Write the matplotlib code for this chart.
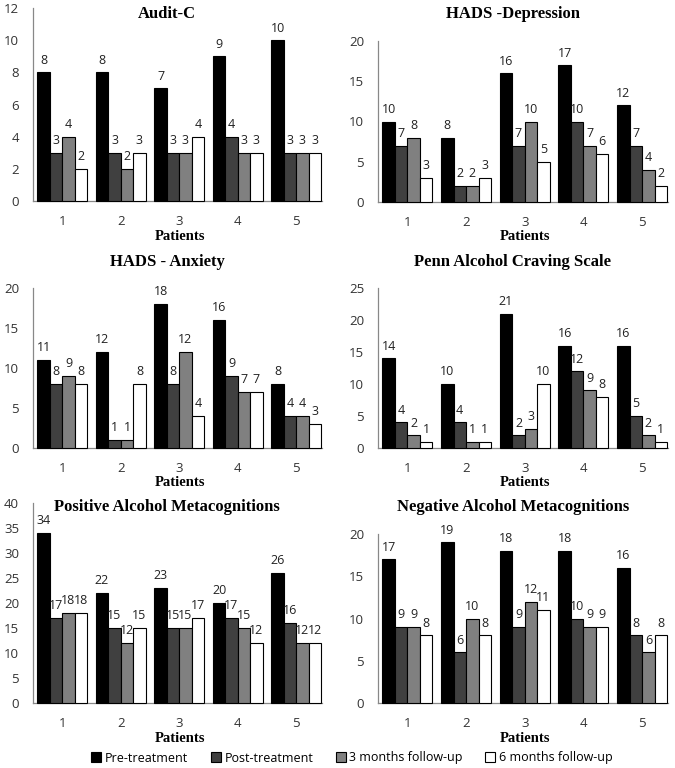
import matplotlib
matplotlib.use("Agg")
import matplotlib.pyplot as plt
from matplotlib.patches import Patch
import numpy as np

patients = ["1", "2", "3", "4", "5"]
series_names = ["Pre-treatment", "Post-treatment", "3 months follow-up", "6 months follow-up"]
colors = ["#000000", "#404040", "#808080", "#ffffff"]

audit_c = [[8, 8, 7, 9, 10], [3, 3, 3, 4, 3], [4, 2, 3, 3, 3], [2, 3, 4, 3, 3]]
hads_dep = [[10, 8, 16, 17, 12], [7, 2, 7, 10, 7], [8, 2, 10, 7, 4], [3, 3, 5, 6, 2]]
hads_anx = [[11, 12, 18, 16, 8], [8, 1, 8, 9, 4], [9, 1, 12, 7, 4], [8, 8, 4, 7, 3]]
penn = [[14, 10, 21, 16, 16], [4, 4, 2, 12, 5], [2, 1, 3, 9, 2], [1, 1, 10, 8, 1]]
pos_meta = [[34, 22, 23, 20, 26], [17, 15, 15, 17, 16], [18, 12, 15, 15, 12], [18, 15, 17, 12, 12]]
neg_meta = [[17, 19, 18, 18, 16], [9, 6, 9, 10, 8], [9, 10, 12, 9, 6], [8, 8, 11, 9, 8]]

titles = ["Audit-C", "HADS -Depression", "HADS - Anxiety", "Penn Alcohol Craving Scale",
          "Positive Alcohol Metacognitions", "Negative Alcohol Metacognitions"]
datasets = [audit_c, hads_dep, hads_anx, penn, pos_meta, neg_meta]
ymax = [12, 20, 20, 25, 40, 20]
ystep = [2, 5, 5, 5, 5, 5]

W, H = 675, 768
fig = plt.figure(figsize=(W / 100, H / 100), dpi=100)

# (left px, right px, top px, bottom px), title pos, xlabel pos
boxes = [
    (33, 322, 8, 201, (167, 14), (180, 237)),
    (378, 668, 41, 202, (513, 14), (525, 237)),
    (33, 322, 288, 448, (167, 262), (180, 483)),
    (378, 668, 288, 448, (513, 262), (525, 483)),
    (33, 322, 503, 703, (167, 507), (180, 738)),
    (378, 668, 534, 703, (513, 507), (525, 738)),
]

sans = ["Open Sans", "DejaVu Sans"]
serif = ["Liberation Serif", "DejaVu Serif"]
tick_color = "#333333"
bw = 0.213
x = np.arange(1, 6)

for data, title, ym, st, box in zip(datasets, titles, ymax, ystep, boxes):
    l, r, t, b, tpos, xpos = box
    ax = fig.add_axes([l / W, 1 - b / H, (r - l) / W, (b - t) / H])
    for i, vals in enumerate(data):
        offs = (i - 1.5) * bw
        ax.bar(x + offs, vals, width=bw, color=colors[i], edgecolor="black",
               linewidth=0.8, zorder=3, clip_on=False)
        for xi, v in zip(x + offs, vals):
            ax.annotate(str(v), (xi, v), xytext=(0, 4), textcoords="offset points",
                        ha="center", va="bottom", fontsize=9, family=sans, color="#222222")
    ax.set_xlim(0.5, 5.44)
    ax.set_ylim(0, ym)
    ax.set_yticks(np.arange(0, ym + 0.1, st))
    ax.set_xticks(x)
    ax.set_xticklabels(patients)
    ax.tick_params(axis="both", length=0, labelsize=9.5, colors=tick_color)
    ax.tick_params(axis="x", pad=10)
    ax.tick_params(axis="y", pad=10)
    for lab in ax.get_xticklabels() + ax.get_yticklabels():
        lab.set_family(sans)
    for s in ["top", "right"]:
        ax.spines[s].set_visible(False)
    for s in ["left", "bottom"]:
        ax.spines[s].set_color("#888888")
        ax.spines[s].set_linewidth(0.9)
    ax.set_facecolor("none")
    fig.text(tpos[0] / W, 1 - tpos[1] / H, title, ha="center", va="center",
             fontsize=12, fontweight="bold", family=serif)
    fig.text(xpos[0] / W, 1 - xpos[1] / H, "Patients", ha="center", va="center",
             fontsize=10.5, fontweight="bold", family=serif)

handles = [Patch(facecolor=c, edgecolor="black", linewidth=0.8) for c in colors]
fig.legend(handles, series_names, loc="center", bbox_to_anchor=(352 / W, 1 - 758 / H),
           ncol=4, frameon=False, prop={"family": sans, "size": 9},
           handlelength=0.8, handleheight=0.8, handletextpad=0.3, columnspacing=1.8)

fig.savefig("out.png", dpi=100)
